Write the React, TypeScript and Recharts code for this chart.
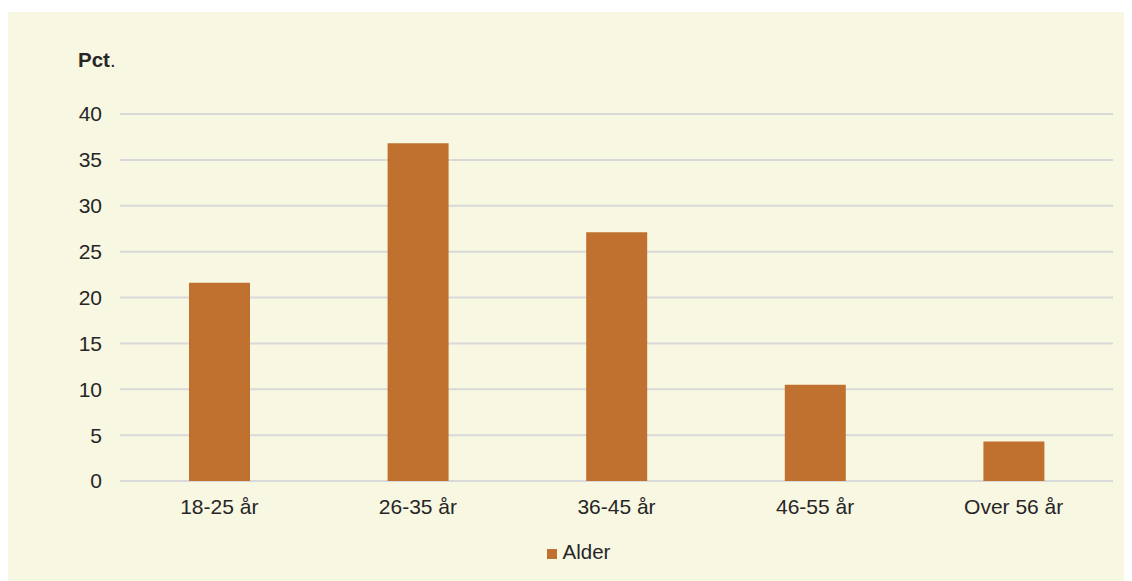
import React from 'react';
import { BarChart, Bar, XAxis, YAxis, CartesianGrid, Legend, Label } from 'recharts';

const categories = ['18-25 år', '26-35 år', '36-45 år', '46-55 år', 'Over 56 år'];
const alderValues = [21.6, 36.8, 27.1, 10.5, 4.3];
const yTicks = [0, 5, 10, 15, 20, 25, 30, 35, 40];
const seriesName = 'Alder';
const yUnit = 'Pct';

const data = categories.map((c, i) => ({ name: c, alder: alderValues[i] }));

const FONT = '"Liberation Sans", Arial, sans-serif';
const TEXT = '#262626';

export default function App() {
  return (
    <div style={{ marginTop: 4, width: 1124, height: 570, background: '#F8F7E2' }}>
      <BarChart
        width={1124}
        height={570}
        data={data}
        margin={{ top: 102, right: 19, bottom: 71, left: 0 }}
        style={{ fontFamily: FONT }}
      >
        <CartesianGrid vertical={false} stroke="#D9D9D9" strokeWidth={2} />
        <XAxis
          dataKey="name"
          axisLine={false}
          tickLine={false}
          tickSize={0}
          tickMargin={18}
          tick={{ fill: TEXT, fontSize: 21, fontFamily: FONT }}
          height={30}
        />
        <YAxis
          width={112}
          domain={[0, 40]}
          ticks={yTicks}
          axisLine={false}
          tickLine={false}
          tickSize={0}
          tickMargin={18}
          tick={{ fill: TEXT, fontSize: 21, fontFamily: FONT }}
        >
          <Label
            content={() => (
              <text x={70} y={55} fill={TEXT} fontSize={20.5} fontFamily={FONT}>
                <tspan fontWeight="bold">{yUnit}</tspan>
                <tspan>.</tspan>
              </text>
            )}
          />
        </YAxis>
        <Legend
          verticalAlign="middle"
          align="center"
          layout="horizontal"
          iconType="square"
          iconSize={10}
          wrapperStyle={{ top: 528, left: 23, fontSize: 20.5, fontFamily: FONT }}
          formatter={(v) => <span style={{ color: TEXT, marginLeft: 2 }}>{v}</span>}
        />
        <Bar dataKey="alder" name={seriesName} fill="#C0712F" barSize={61} isAnimationActive={false} />
      </BarChart>
    </div>
  );
}
